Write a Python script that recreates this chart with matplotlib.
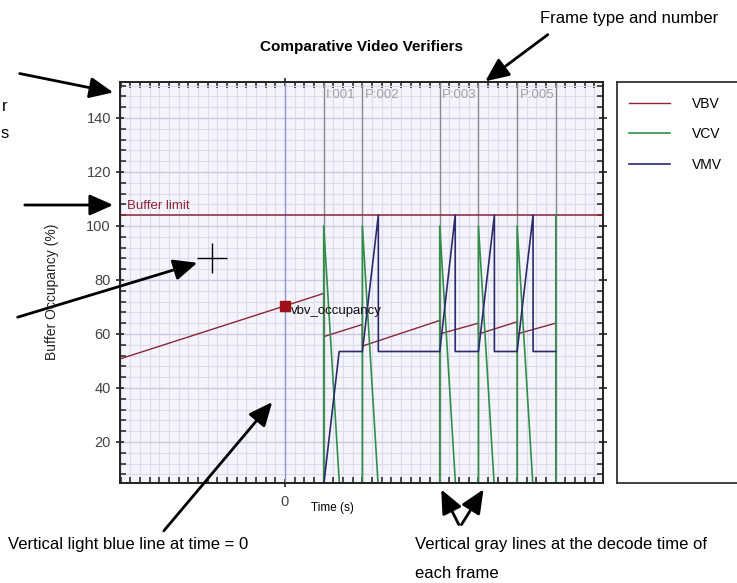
import numpy as np
import matplotlib
matplotlib.use("Agg")
import matplotlib.pyplot as plt
from matplotlib.patches import FancyArrowPatch
from matplotlib.ticker import MultipleLocator, FixedLocator

plt.rcParams['font.family'] = ['Liberation Sans', 'DejaVu Sans']

W, H = 737, 583

# frames (decode times, s) and their labels (None = label hidden)
frame_times = [0.04, 0.08, 0.16, 0.20, 0.24, 0.28]
frame_labels = ["I:001", "P:002", "P:003", None, "P:005", None]

buffer_limit = 104

# VBV occupancy
vbv_t = [-0.171, 0.04, 0.04, 0.08, 0.08, 0.16, 0.16, 0.20, 0.20, 0.24, 0.24, 0.28]
vbv_v = [50.7, 75.0, 59.0, 63.5, 55.5, 65.0, 60.0, 64.0, 60.0, 64.5, 60.0, 64.0]

# VCV
vcv_t = [0.04, 0.04, 0.057, 0.08, 0.08, 0.097, 0.16, 0.16, 0.177,
         0.20, 0.20, 0.217, 0.24, 0.24, 0.257, 0.28, 0.28]
vcv_v = [0, 100, 0, 0, 100, 0, 0, 100, 0,
         0, 100, 0, 0, 100, 0, 0, 104]

# VMV
vmv_t = [0.04, 0.056, 0.08, 0.0965, 0.0965, 0.16, 0.176, 0.176, 0.20,
         0.2165, 0.2165, 0.24, 0.2565, 0.2565, 0.28]
vmv_v = [4, 53.5, 53.5, 104, 53.5, 53.5, 104, 53.5, 53.5,
         104, 53.5, 53.5, 104, 53.5, 53.5]

marker_t, marker_v = 0.0, 70.4
cursor_t, cursor_v = -0.0755, 88

col_vbv = "#8c2638"
col_vcv = "#2f8f4a"
col_vmv = "#2b2b6e"


def fpx(x, y):
    return (x / W, 1 - y / H)


fig = plt.figure(figsize=(W / 100, H / 100), dpi=100)
ax = fig.add_axes([120 / W, (H - 483) / H, 483 / W, 401 / H])
ax.set_facecolor("#f5f4fb")
ax.set_xlim(-0.1706, 0.3288)
ax.set_ylim(4.8, 153.3)

ax.xaxis.set_major_locator(FixedLocator([0]))
ax.xaxis.set_minor_locator(MultipleLocator(0.01))
ax.yaxis.set_minor_locator(MultipleLocator(4))
ax.set_yticks([20, 40, 60, 80, 100, 120, 140])
ax.tick_params(which="both", direction="in", top=True, right=True, colors="#222222",
               labelsize=10.5, labelcolor="#444444")
ax.tick_params(which="major", length=6, width=1.2, direction="inout")
ax.tick_params(which="minor", length=4, width=1.1)
ax.tick_params(axis="x", pad=6)
ax.grid(which="minor", color="#dcdcec", lw=0.8)
ax.grid(which="major", axis="y", color="#c9c9e0", lw=1.0)
for s in ax.spines.values():
    s.set_linewidth(1.4)
    s.set_color("#222222")

ax.axvline(0, color="#8f93cf", lw=1.0)
for t, lab in zip(frame_times, frame_labels):
    ax.axvline(t, color="#8a8a8a", lw=1.0)
    if lab:
        ax.text(t + 0.0025, 148.6, lab, color="#a0a0a0", fontsize=9.5, va="center")

ax.axhline(buffer_limit, color=col_vbv, lw=1.1)
ax.text(-0.1706 + 0.007, buffer_limit + 1.2, "Buffer limit", color=col_vbv,
        fontsize=9.5, va="bottom")

l1, = ax.plot(vbv_t, vbv_v, color=col_vbv, lw=1.0)
l2, = ax.plot(vcv_t, vcv_v, color=col_vcv, lw=1.2)
l3, = ax.plot(vmv_t, vmv_v, color=col_vmv, lw=1.2)

ax.plot(marker_t, marker_v, "s", color="#a01018", ms=7)
ax.text(marker_t + 0.006, marker_v - 2, "vbv_occupancy", fontsize=9.5, va="center",
        color="#111111")
ax.plot(cursor_t, cursor_v, "+", color="black", ms=22, mew=1.0)

# axis titles placed as in the screenshot
fig.text(*fpx(332, 508), "Time (s)", fontsize=8.5, ha="center", va="center")
fig.text(*fpx(52, 292), "Buffer Occupancy (%)", fontsize=10, rotation=90,
         ha="center", va="center", color="#222222")
fig.text(*fpx(362, 47), "Comparative Video Verifiers", ha="center", va="center",
         fontsize=11, fontweight="bold")

# legend box
lax = fig.add_axes([617 / W, (H - 483) / H, 140 / W, 401 / H])
lax.set_xticks([])
lax.set_yticks([])
for s in lax.spines.values():
    s.set_linewidth(1.3)
    s.set_color("#333333")
fig.legend([l1, l2, l3], ["VBV", "VCV", "VMV"], loc="upper left",
           bbox_to_anchor=fpx(616, 84), frameon=False, fontsize=10,
           handlelength=3.0, handletextpad=1.6, labelspacing=1.2)

# annotations
fig.text(*fpx(540, 18), "Frame type and number", fontsize=12, va="center")
fig.text(*fpx(8, 545), "Vertical light blue line at time = 0", fontsize=12, va="center")
fig.text(*fpx(415, 545), "Vertical gray lines at the decode time of", fontsize=12,
         va="center")
fig.text(*fpx(415, 573), "each frame", fontsize=12, va="center")
fig.text(*fpx(2, 106), "r", fontsize=12, va="center")
fig.text(*fpx(1, 133), "s", fontsize=12, va="center")

arrows = [((17, 73), (116, 93)), ((22, 205), (116, 205)), ((15, 318), (200, 262)),
          ((162, 533), (274, 400)), ((550, 33), (483, 83)),
          ((460, 527), (440, 487)), ((460, 527), (485, 487))]
for a, b in arrows:
    fig.add_artist(FancyArrowPatch(fpx(*a), fpx(*b), transform=fig.transFigure,
                                   arrowstyle="-|>,head_length=0.9,head_width=0.4",
                                   mutation_scale=16, lw=2, color="black"))

fig.savefig("out.png", dpi=100)
